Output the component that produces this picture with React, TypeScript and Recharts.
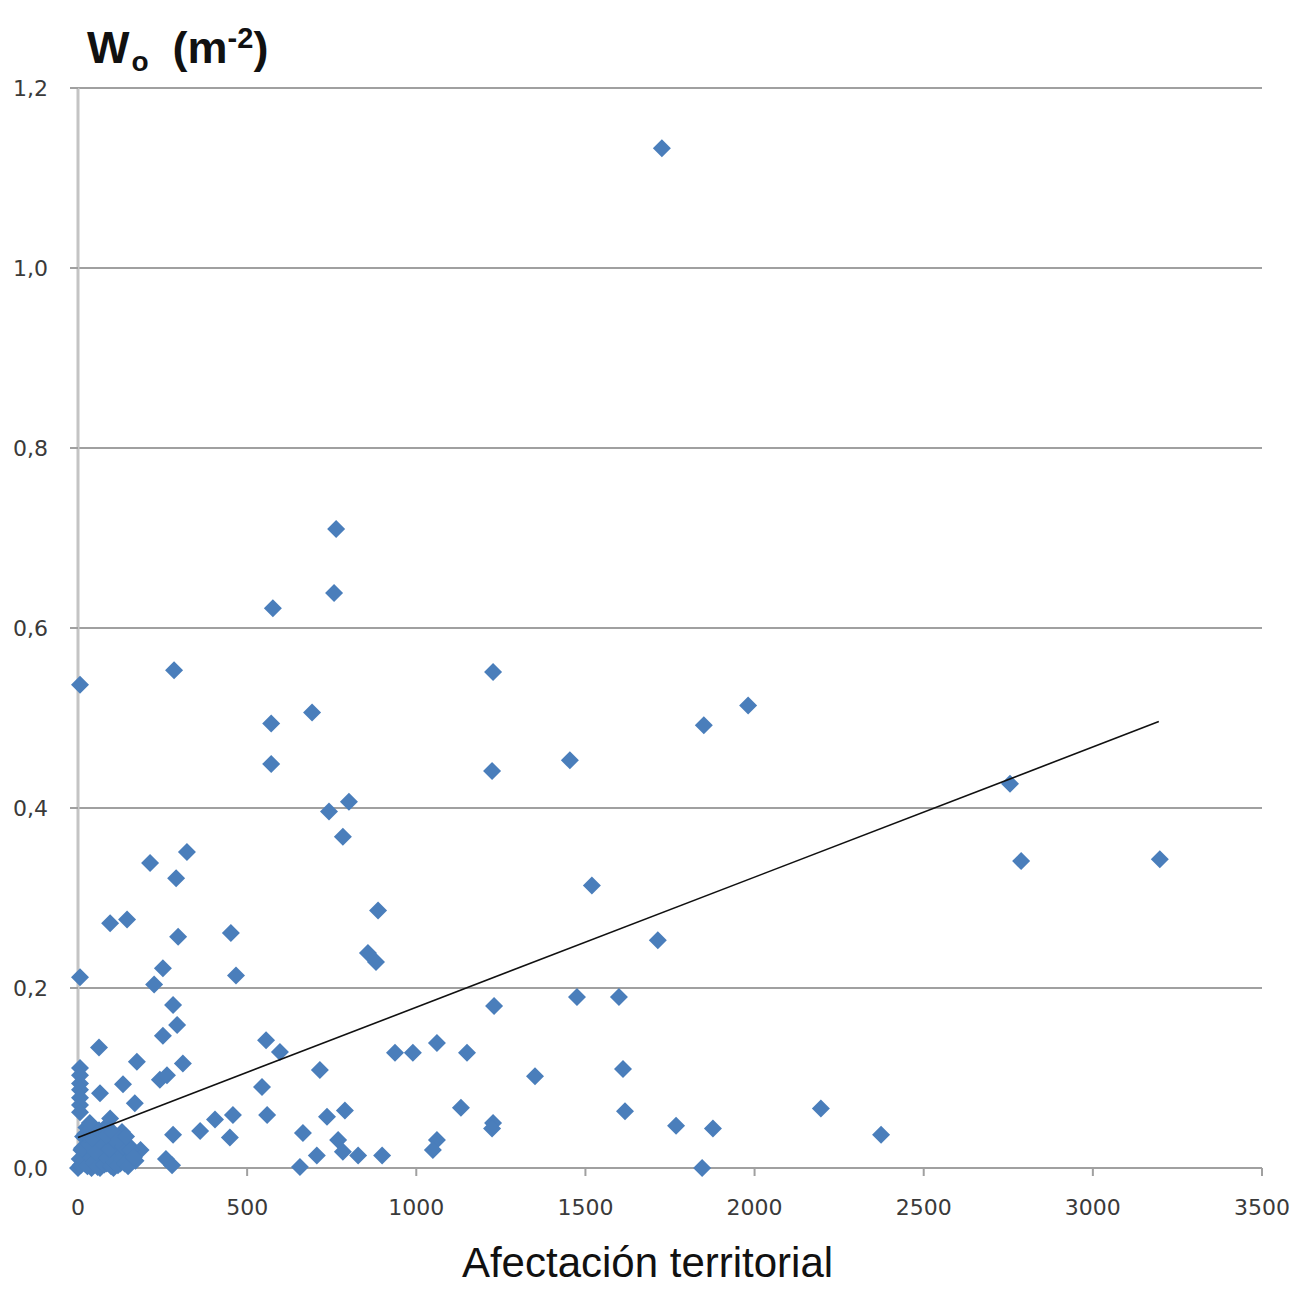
import React from "react"
import { ScatterChart, Scatter, XAxis, YAxis, CartesianGrid } from "recharts"

// Afectación territorial (x) and Wo in m-2 (y)
const afectacion = [
  1726, 763, 757, 576, 6, 284, 1227, 1981, 1850, 692, 571, 571, 1224, 1454, 2755,
  801, 742, 783, 2788, 3198, 1519, 322, 213, 290, 887, 95, 145, 452, 1714, 296,
  857, 881, 6, 467, 251, 225, 1475, 1599, 1230, 281, 293, 251, 62, 556, 597,
  1061, 937, 990, 1150, 174, 310, 715, 1611, 1351, 242, 263, 133, 544, 65, 168,
  405, 361, 458, 449, 559, 736, 789, 1132, 1227, 1224, 1617, 2196, 1768, 1877, 2374,
  665, 769, 783, 828, 899, 706, 1061, 1049, 656, 1845, 281, 260, 278,
  6, 6, 6, 6, 6, 6, 6,
  0, 5, 10, 15, 20, 25, 30, 40, 45, 50, 55, 60, 65, 70, 80, 85, 90, 100, 105,
  110, 120, 125, 130, 140, 150, 160, 35, 95, 185, 170,
  8, 18, 28, 38, 48, 58, 68, 78, 88, 98, 108, 118, 128, 138, 148,
  12, 32, 52, 72, 92, 112, 132, 155, 22, 42, 62, 82, 102, 122, 142, 165,
]
const wo = [
  1.133, 0.71, 0.639, 0.622, 0.537, 0.553, 0.551, 0.514, 0.492, 0.506, 0.494, 0.449, 0.441, 0.453, 0.427,
  0.407, 0.396, 0.368, 0.341, 0.343, 0.314, 0.351, 0.339, 0.322, 0.286, 0.272, 0.276, 0.261, 0.253, 0.257,
  0.239, 0.229, 0.212, 0.214, 0.222, 0.204, 0.19, 0.19, 0.18, 0.181, 0.159, 0.147, 0.134, 0.142, 0.129,
  0.139, 0.128, 0.128, 0.128, 0.118, 0.116, 0.109, 0.11, 0.102, 0.098, 0.103, 0.093, 0.09, 0.083, 0.072,
  0.054, 0.041, 0.059, 0.034, 0.059, 0.057, 0.064, 0.067, 0.05, 0.044, 0.063, 0.066, 0.047, 0.044, 0.037,
  0.039, 0.031, 0.018, 0.014, 0.014, 0.014, 0.031, 0.02, 0.001, 0, 0.037, 0.01, 0.003,
  0.111, 0.103, 0.094, 0.087, 0.078, 0.07, 0.062,
  0, 0.01, 0.02, 0.035, 0.005, 0.045, 0.015, 0, 0.025, 0.04, 0.01, 0.03, 0, 0.02, 0.045, 0.005, 0.03, 0.015, 0,
  0.035, 0.02, 0.005, 0.04, 0.01, 0.025, 0.015, 0.05, 0.055, 0.02, 0.008,
  0.003, 0.008, 0.002, 0.012, 0.006, 0.001, 0.009, 0.004, 0.011, 0.002, 0.007, 0.003, 0.01, 0.005, 0.002,
  0.022, 0.027, 0.018, 0.028, 0.021, 0.03, 0.024, 0.02, 0.038, 0.033, 0.042, 0.036, 0.04, 0.032, 0.035, 0.012,
]

const xTicks = [0, 500, 1000, 1500, 2000, 2500, 3000, 3500]
const yTicks = [0, 0.2, 0.4, 0.6, 0.8, 1.0, 1.2]

// linear trend line end points
const trendX = [0, 3195]
const trendY = [0.034, 0.496]

const points = afectacion.map((x, i) => ({ x, y: wo[i] }))
const trend = trendX.map((x, i) => ({ x, y: trendY[i] }))

const Diamond = (props: any) => {
  const { cx, cy } = props
  if (cx == null || cy == null) return null
  const r = 9
  return (
    <polygon
      points={`${cx},${cy - r} ${cx + r},${cy} ${cx},${cy + r} ${cx - r},${cy}`}
      fill="#4A7EBB"
    />
  )
}

const NoDot = () => <g />

const tickStyle = { fontFamily: "DejaVu Sans", fontSize: 22, fill: "#3a3a3a" }

export default function App() {
  return (
    <div style={{ position: "absolute", left: 0, top: 0, width: 1305, height: 1289, background: "#fff" }}>
      <div
        style={{
          position: "absolute",
          left: 87,
          top: 9,
          fontFamily: "Liberation Sans",
          fontWeight: "bold",
          fontSize: 45,
          lineHeight: "58px",
          color: "#111",
          whiteSpace: "nowrap",
        }}
      >
        W<sub style={{ fontSize: 28, verticalAlign: "-8px", marginLeft: 2 }}>o</sub>
        <span style={{ marginLeft: 24 }}>(m</span>
        <sup style={{ fontSize: 29, verticalAlign: "15px" }}>-2</sup>)
      </div>
      <ScatterChart
        width={1305}
        height={1289}
        margin={{ top: 88, right: 43, bottom: 81, left: 18 }}
      >
        <CartesianGrid horizontal vertical={false} stroke="#a0a0a0" strokeWidth={2} />
        <XAxis
          type="number"
          dataKey="x"
          domain={[0, 3500]}
          ticks={xTicks}
          interval={0}
          height={40}
          tickSize={8}
          tickMargin={23}
          axisLine={{ stroke: "#a0a0a0", strokeWidth: 2 }}
          tickLine={{ stroke: "#a0a0a0", strokeWidth: 2 }}
          tick={tickStyle}
        />
        <YAxis
          type="number"
          dataKey="y"
          domain={[0, 1.2]}
          ticks={yTicks}
          interval={0}
          width={60}
          tickSize={8}
          tickMargin={22}
          tickFormatter={(v: number) => v.toFixed(1).replace(".", ",")}
          axisLine={{ stroke: "#c4c4c4", strokeWidth: 3 }}
          tickLine={{ stroke: "#a0a0a0", strokeWidth: 2 }}
          tick={tickStyle}
        />
        <Scatter data={points} shape={<Diamond />} isAnimationActive={false} />
        <Scatter
          data={trend}
          line={{ stroke: "#111", strokeWidth: 1.6 }}
          shape={<NoDot />}
          isAnimationActive={false}
        />
      </ScatterChart>
      <div
        style={{
          position: "absolute",
          left: 0,
          width: 1305,
          top: 1238,
          textAlign: "center",
          fontFamily: "Liberation Sans",
          fontSize: 42,
          lineHeight: "50px",
          color: "#111",
        }}
      >
        <span style={{ marginLeft: -10 }}>Afectación territorial</span>
      </div>
    </div>
  )
}
